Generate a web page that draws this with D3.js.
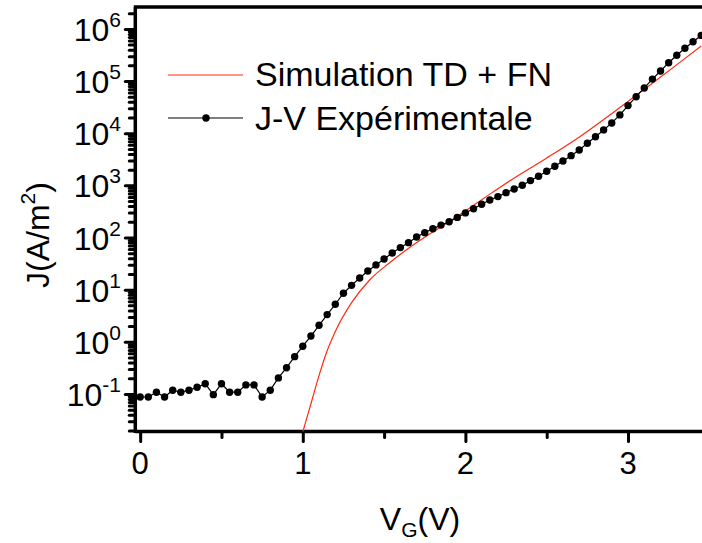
<!DOCTYPE html>
<html>
<head>
<meta charset="utf-8">
<script src="https://cdn.jsdelivr.net/npm/d3@7"></script>
<style>
  html, body { margin: 0; padding: 0; background: #fff; }
  svg { display: block; }
  text { font-family: "Liberation Sans", Arial, Helvetica, sans-serif; fill: #000; }
</style>
</head>
<body>
<svg id="chart" width="702" height="543"></svg>
<script>
// ---- Data ----
const V_exp = [0.00,0.05,0.10,0.15,0.20,0.25,0.30,0.35,0.40,0.45,
               0.50,0.55,0.60,0.65,0.70,0.75,0.80,0.85,0.90,0.95,
               1.00,1.05,1.10,1.15,1.20,1.25,1.30,1.35,1.40,1.45,
               1.50,1.55,1.60,1.65,1.70,1.75,1.80,1.85,1.90,1.95,
               2.00,2.05,2.10,2.15,2.20,2.25,2.30,2.35,2.40,2.45,
               2.50,2.55,2.60,2.65,2.70,2.75,2.80,2.85,2.90,2.95,
               3.00,3.05,3.10,3.15,3.20,3.25,3.30,3.35,3.40,3.45];
const J_exp = [0.0875,0.0875,0.108,0.0875,0.118,0.108,0.118,0.134,0.157,0.097,
               0.157,0.108,0.108,0.149,0.149,0.0875,0.118,0.203,0.319,0.519,
               0.824,1.29,2.07,3.32,5.25,8.53,12.1,16.7,22.8,29.8,
               38.8,50.6,64.0,79.7,102.5,124,147,173,201,243,
               296,357,434,525,608,725,853,1005,1233,1496,
               1866,2328,2939,3715,4779,6427,8560,11560,15740,22420,
               33840,50100,73800,109000,156000,225000,313000,427000,568000,750000];
const V_sim = [0.98,1.00,1.055,1.103,1.147,1.196,1.299,1.411,1.534,1.657,1.780,1.902,2.107,2.291,2.496,2.701,2.905,3.111,3.315,3.45];
const J_sim = [0.0115,0.0187,0.0733,0.242,0.638,1.48,5.56,15.3,32.8,64.4,117,203,550,1327,3281,8490,24500,73900,223000,472000];
const xTicksMajor = [0, 1, 2, 3];
const xTicksMinor = [0.5, 1.5, 2.5, 3.5];
const yExponents = [-1, 0, 1, 2, 3, 4, 5, 6];
const legendLabels = ["Simulation TD + FN", "J-V Expérimentale"];
const xTitle = ["V", "G", "(V)"];
const yTitle = ["J(A/m", "2", ")"];

// ---- Layout ----
const svg = d3.select("#chart");
const L = 135.3, R = 702, T = 7, B = 431.5;
const x = d3.scaleLinear().domain([-0.03, 3.455]).range([L, R]);
const y = d3.scaleLog().domain([Math.pow(10, -1.72), Math.pow(10, 6.42)]).range([B, T]);

svg.append("defs").append("clipPath").attr("id", "clip")
  .append("rect").attr("x", L).attr("y", T).attr("width", R - L).attr("height", B - T);

// ---- Axes ----
const yMinor = [];
for (let e = -2; e <= 6; e++) for (let m = 2; m <= 9; m++) {
  const v = m * Math.pow(10, e);
  if (v >= y.domain()[0] && v <= y.domain()[1]) yMinor.push(v);
}
const yMajor = yExponents.map(e => Math.pow(10, e));

function styleAxis(g) {
  g.select(".domain").remove();
  g.selectAll(".tick line").attr("stroke", "#000").attr("stroke-width", 3).attr("stroke-linecap", "round");
}

svg.append("g").attr("transform", `translate(${L},0)`)
  .call(d3.axisLeft(y).tickValues(yMinor).tickSize(6).tickFormat(""))
  .call(styleAxis);
svg.append("g").attr("transform", `translate(${L},0)`)
  .call(d3.axisLeft(y).tickValues(yMajor).tickSize(10).tickFormat(""))
  .call(styleAxis);

svg.append("g").attr("transform", `translate(0,${B})`)
  .call(d3.axisBottom(x).tickValues(xTicksMinor).tickSize(6).tickFormat(""))
  .call(styleAxis);
svg.append("g").attr("transform", `translate(0,${B})`)
  .call(d3.axisBottom(x).tickValues(xTicksMajor).tickSize(10).tickFormat(""))
  .call(styleAxis);

// axis lines / frame
svg.append("path")
  .attr("d", `M${L},${B}L${R},${B}M${L},${B + 1.5}L${L},${T}M${L - 1.5},${T}L${R},${T}`)
  .attr("fill", "none").attr("stroke", "#000").attr("stroke-width", 3.5);

// x tick labels
svg.append("g").selectAll("text").data(xTicksMajor).join("text")
  .attr("x", d => x(d)).attr("y", B + 42)
  .attr("text-anchor", "middle").attr("font-size", 31)
  .text(d => d);

// y tick labels with superscripts
const yl = svg.append("g").selectAll("text").data(yExponents).join("text")
  .attr("x", 121).attr("y", d => y(Math.pow(10, d)) + 12)
  .attr("text-anchor", "end").attr("font-size", 32);
yl.append("tspan").text("10");
yl.append("tspan").attr("font-size", 21).attr("dy", -14).text(d => d);

// axis titles
const xt = svg.append("text").attr("x", 420).attr("y", 530)
  .attr("text-anchor", "middle").attr("font-size", 32);
xt.append("tspan").text(xTitle[0]);
xt.append("tspan").attr("font-size", 21).attr("dy", 7).text(xTitle[1]);
xt.append("tspan").attr("dy", -7).text(xTitle[2]);

const yt = svg.append("text").attr("transform", "translate(49,235) rotate(-90)")
  .attr("text-anchor", "middle").attr("font-size", 32);
yt.append("tspan").text(yTitle[0]);
yt.append("tspan").attr("font-size", 21).attr("dy", -14).text(yTitle[1]);
yt.append("tspan").attr("dy", 14).text(yTitle[2]);

// ---- Series ----
const plot = svg.append("g").attr("clip-path", "url(#clip)");
const sim = V_sim.map((v, i) => [v, J_sim[i]]);
const exp = V_exp.map((v, i) => [v, J_exp[i]]);

plot.append("path").datum(sim)
  .attr("d", d3.line().x(d => x(d[0])).y(d => y(d[1])).curve(d3.curveMonotoneX))
  .attr("fill", "none").attr("stroke", "#ff2a10").attr("stroke-width", 1.2);

plot.append("path").datum(exp)
  .attr("d", d3.line().x(d => x(d[0])).y(d => y(d[1])))
  .attr("fill", "none").attr("stroke", "#000").attr("stroke-width", 1.2);

svg.append("g").selectAll("circle").data(exp).join("circle")
  .attr("cx", d => x(d[0])).attr("cy", d => y(d[1])).attr("r", 3.7).attr("fill", "#000");

// ---- Legend ----
const lg = svg.append("g");
lg.append("line").attr("x1", 168).attr("x2", 243).attr("y1", 75).attr("y2", 75)
  .attr("stroke", "#ff2a10").attr("stroke-width", 1.2);
lg.append("text").attr("x", 255).attr("y", 86).attr("font-size", 34).text(legendLabels[0]);
lg.append("line").attr("x1", 168).attr("x2", 243).attr("y1", 118).attr("y2", 118)
  .attr("stroke", "#000").attr("stroke-width", 1.2);
lg.append("circle").attr("cx", 206).attr("cy", 118).attr("r", 3.7).attr("fill", "#000");
lg.append("text").attr("x", 255).attr("y", 129.5).attr("font-size", 34).text(legendLabels[1]);
</script>
</body>
</html>
